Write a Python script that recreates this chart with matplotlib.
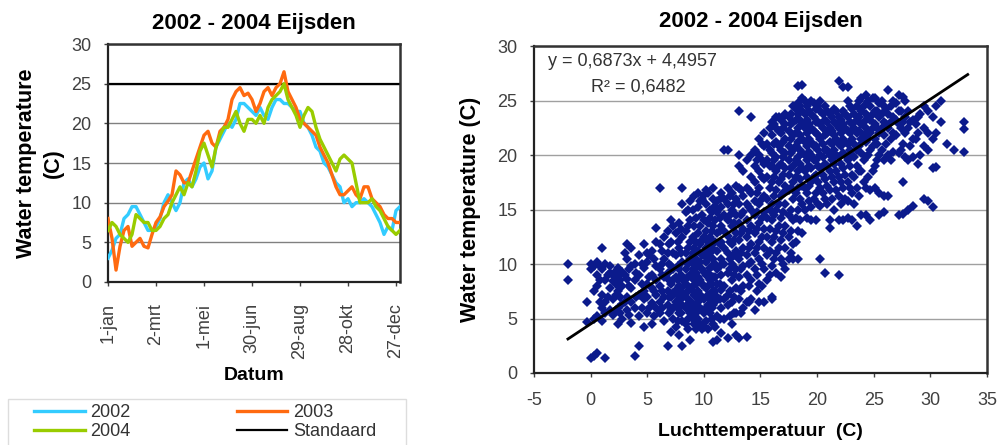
import numpy as np
import matplotlib
matplotlib.use('Agg')
import matplotlib.pyplot as plt
from matplotlib.patches import Rectangle

plt.rcParams['font.family'] = ['Liberation Sans', 'DejaVu Sans']
plt.rcParams['axes.unicode_minus'] = False

# left panel: water temperature per day of year (read every 5 days)
days = np.arange(0, 366, 5)
temp_2002 = [3, 4, 5.5, 6, 8, 8.5, 9.5, 9.5, 8.5, 7.5,
             6.5, 6.5, 7, 8, 10, 11, 10, 9, 10, 12.5,
             13, 12, 13, 14.5, 15, 13, 14, 17, 18, 19,
             20, 19.5, 20.5, 22.5, 22.5, 22, 21.5, 21, 22, 21,
             20.5, 22, 23, 23, 22.5, 22.5, 22, 21.5, 21.5, 20,
             19.5, 18.5, 17, 16.5, 15, 14.5, 13.5, 12.5, 12, 10,
             10.5, 9.5, 10, 10, 10.5, 10, 9.5, 8.5, 7.5, 6,
             7, 6.5, 9, 9.5]
temp_2003 = [8, 5.5, 1.5, 4.5, 6.5, 7, 4.5, 5, 5.5, 4.5,
             4.3, 6, 7.5, 8.2, 9.5, 10.2, 11, 14, 13.5, 12.5,
             12.5, 14, 15.5, 17, 18.5, 19, 17.5, 17, 19, 19.5,
             20.5, 23, 24, 24.5, 23.5, 23.8, 23, 21.5, 22.5, 24,
             24.5, 23.5, 24.5, 25, 26.5, 24, 23, 22, 20.5, 20,
             19.5, 19, 18.5, 17, 16, 15, 13.5, 12, 11, 11,
             11.5, 12, 11, 10.5, 12, 12, 10.5, 10, 9.5, 8.5,
             8, 8, 7.5, 7.5]
temp_2004 = [6.5, 7.5, 7, 6, 5.5, 5, 6, 8.5, 8, 7.5,
             7.5, 6.5, 6.5, 7, 8, 8.5, 10, 11, 12, 11,
             12.5, 12, 14, 16.5, 17.5, 16, 14.5, 17, 18.5, 19.5,
             19.5, 20.5, 21.5, 20, 19, 20.5, 20.5, 20, 21, 20,
             22, 23, 23.5, 24, 25, 23, 22, 21, 19.5, 21,
             22, 21.5, 19.5, 18, 17, 16, 15, 14, 15.5, 16,
             15.5, 15, 12.5, 10, 10, 10, 10.5, 9.5, 9, 8,
             7, 6.5, 6, 6.5]
standaard = 25
date_ticks = [0, 60, 120, 180, 240, 300, 360]
date_labels = ['1-jan', '2-mrt', '1-mei', '30-jun', '29-aug', '28-okt', '27-dec']

# right panel: air temperature columns with the water temperatures seen there
air_cols = [-2.0, -0.3, 0.0, 0.3, 0.6, 1.0, 1.3, 1.7, 2.0, 2.4, 2.8, 3.2, 3.6, 3.9,
            4.3, 4.7, 5.0, 5.4, 5.8, 6.1, 6.5, 6.8, 7.1, 7.5, 7.8, 8.1, 8.4, 8.8,
            9.1, 9.5, 9.8, 10.2, 10.5, 10.8, 11.2, 11.5, 11.8, 12.1, 12.5, 12.8,
            13.1, 13.5, 13.8, 14.2, 14.5, 14.9, 15.3, 15.6, 16.0, 16.4, 16.8,
            17.2, 17.5, 17.9, 18.3, 18.7, 19.1, 19.5, 19.9, 20.3, 20.7, 21.1,
            21.5, 21.9, 22.3, 22.7, 23.1, 23.5, 23.9, 24.3, 24.7, 25.1, 25.5,
            25.9, 26.3, 26.7, 27.2, 27.6, 28.0, 28.5, 28.9, 29.4, 29.8, 30.2,
            30.5, 30.9, 31.5, 32.1, 33.0]
water_cols = [
    [10, 8.5], [6.5, 4.7], [1.4, 9.5, 10], [1.6, 5.0, 7.5, 9.8],
    [1.8, 5.2, 8.0, 9.0, 10.2], [4.8, 6.0, 7.2, 9.5, 11.5], [1.4, 5.5, 6.5, 8.5, 10.0],
    [5.8, 7.8, 9.2, 9.8], [5.3, 6.8, 8.4, 9.0], [4.5, 6.0, 7.5, 8.8, 9.6],
    [5.0, 6.3, 8.0, 9.3], [5.8, 7.0, 8.6, 10.5, 11.8], [4.6, 6.5, 7.8, 9.8, 11.5],
    [1.6, 6.0, 8.5, 10.0], [2.5, 5.2, 7.2, 9.0, 10.8], [4.2, 6.8, 7.5, 9.6, 11.8],
    [5.5, 7.0, 8.2, 10.2, 11.0], [4.5, 6.4, 7.8, 9.0, 11.2],
    [6.0, 7.2, 8.5, 9.8, 12.0, 13.3], [5.5, 6.5, 8.0, 9.5, 11.8, 17.0],
    [4.8, 7.0, 8.8, 10.5, 12.5], [2.5, 6.2, 7.5, 9.2, 11.0, 13.0],
    [3.8, 5.8, 7.0, 8.2, 9.8, 12.0, 14.0], [4.2, 6.5, 7.6, 8.8, 10.8, 12.8],
    [3.5, 5.5, 6.8, 8.0, 9.5, 11.5, 13.8], [2.5, 4.8, 6.2, 7.4, 8.6, 10.2, 12.5, 15.5, 17.0],
    [4.5, 6.0, 7.0, 8.2, 9.5, 11.0, 13.0, 14.8], [3.0, 5.5, 6.6, 7.8, 9.0, 10.5, 12.0, 14.0, 15.8],
    [4.5, 6.2, 7.2, 8.5, 10.0, 11.5, 13.5, 16.2], [5.0, 6.5, 7.5, 8.8, 9.8, 11.2, 12.8, 15.2, 16.5],
    [4.0, 5.8, 7.0, 8.2, 9.5, 10.8, 12.2, 14.5, 16.0], [4.8, 6.0, 7.8, 9.0, 10.2, 11.5, 13.0, 15.5, 16.8],
    [5.5, 6.8, 8.5, 9.6, 11.0, 12.5, 14.2, 15.0], [2.8, 4.5, 6.2, 7.5, 8.8, 10.5, 12.0, 13.5, 16.0, 17.0],
    [3.0, 5.2, 7.0, 8.2, 9.5, 11.2, 12.8, 14.8, 15.8], [3.7, 6.0, 7.6, 9.0, 10.5, 12.0, 13.5, 15.2, 16.5],
    [5.0, 6.8, 8.0, 10.0, 11.5, 13.0, 14.5, 16.0, 20.5], [3.2, 6.2, 7.2, 9.2, 11.0, 12.6, 14.0, 15.5, 17.0, 20.5],
    [4.5, 6.5, 8.5, 10.0, 11.8, 13.5, 15.0, 16.5], [3.5, 5.5, 7.8, 9.5, 11.2, 12.8, 14.5, 16.0, 17.2],
    [3.2, 6.8, 8.8, 10.5, 12.2, 13.8, 15.5, 17.0, 19.0, 20.0, 24.0], [6.0, 8.0, 9.8, 11.5, 13.2, 14.8, 16.2, 18.5],
    [3.3, 6.5, 9.0, 10.8, 12.5, 14.0, 15.5, 17.0, 19.5], [6.8, 8.5, 10.2, 11.8, 13.5, 15.0, 16.5, 18.0, 20.0, 23.5],
    [5.8, 9.5, 11.0, 12.8, 14.5, 15.8, 17.5, 19.0, 20.5], [6.5, 8.2, 10.5, 12.0, 13.8, 15.5, 17.0, 18.5, 20.0, 21.5],
    [6.5, 9.5, 11.5, 13.2, 14.8, 16.2, 17.8, 19.2, 20.8, 22.0], [8.5, 10.8, 12.5, 14.2, 16.0, 18.0, 19.5, 21.0],
    [6.8, 7.0, 9.8, 12.0, 14.0, 15.5, 17.5, 19.0, 20.2, 21.8, 23.0],
    [9.2, 11.0, 13.0, 15.0, 16.8, 18.5, 19.8, 21.2, 22.5, 23.5],
    [8.8, 10.5, 12.2, 14.2, 16.2, 17.8, 19.2, 20.5, 22.0, 23.2],
    [9.5, 11.5, 13.5, 15.5, 17.2, 18.8, 20.2, 21.5, 22.8, 23.8],
    [10.5, 12.5, 14.5, 16.8, 18.2, 19.5, 20.8, 22.2, 23.5],
    [10.5, 11.8, 14.0, 16.0, 17.5, 19.0, 20.5, 21.8, 23.0, 24.5],
    [10.5, 13.0, 15.0, 17.0, 18.5, 19.8, 21.2, 22.5, 23.8, 24.8, 26.3],
    [12.8, 15.5, 17.2, 18.8, 20.2, 21.5, 22.8, 24.0, 25.2, 26.4],
    [14.2, 16.5, 18.0, 19.5, 20.8, 22.0, 23.2, 24.5],
    [14.0, 15.2, 17.5, 18.8, 20.0, 21.2, 22.5, 23.8, 25.0],
    [14.0, 16.5, 18.2, 19.5, 20.8, 22.0, 23.0, 24.2],
    [10.5, 15.3, 17.0, 18.8, 20.0, 21.5, 22.8, 24.0, 25.0],
    [9.2, 16.0, 17.8, 19.2, 20.5, 21.8, 23.2, 24.5],
    [13.3, 14.0, 16.8, 18.5, 20.0, 21.2, 22.5, 23.8],
    [15.0, 17.5, 19.2, 20.5, 21.8, 23.0, 24.2],
    [9.0, 14.0, 16.2, 18.0, 19.8, 21.0, 22.5, 23.5, 26.8],
    [14.0, 17.0, 18.8, 20.2, 21.5, 22.8, 24.0, 26.2],
    [14.2, 15.8, 17.5, 19.5, 21.0, 22.2, 23.5, 25.0, 26.2],
    [14.0, 16.5, 18.2, 20.0, 21.5, 22.8, 24.2],
    [13.5, 17.0, 19.0, 20.5, 22.0, 23.2, 24.5],
    [14.5, 18.5, 20.2, 21.5, 22.8, 24.0, 25.2],
    [14.5, 17.0, 19.8, 21.2, 22.5, 23.8, 25.5],
    [14.0, 16.8, 20.5, 22.0, 23.2, 24.5],
    [17.0, 19.0, 21.5, 22.8, 24.0, 25.2],
    [14.5, 16.5, 20.0, 22.0, 23.5, 24.8],
    [14.8, 16.2, 19.5, 21.8, 23.0, 24.5],
    [16.2, 20.0, 22.5, 23.8, 26.0],
    [20.3, 22.0, 23.5, 25.0],
    [14.5, 20.2, 22.8, 24.0, 25.5],
    [14.6, 17.5, 21.0, 23.0, 25.3],
    [15.0, 19.5, 22.5, 24.0],
    [15.3, 19.8, 21.5, 23.2],
    [19.2, 22.0, 23.5],
    [16.0, 20.8, 22.5, 24.5],
    [15.8, 20.5, 22.0, 24.0],
    [15.2, 18.8, 21.5, 23.5],
    [18.9, 22.0, 24.5],
    [23.0, 25.0],
    [21.0],
    [20.5],
    [20.3, 22.4, 23.0],
]
# extra points in between, where the cloud is densest
air_cols_b = [0.8, 1.5, 2.2, 2.6, 3.0, 3.4, 4.0, 4.5, 5.2, 5.6, 6.3, 6.9, 7.3, 7.7,
              8.0, 8.6, 9.0, 9.3, 9.7, 10.0, 10.4, 10.7, 11.0, 11.4, 12.3, 12.7,
              13.3, 14.0, 14.7, 15.1, 15.8, 16.2, 16.6, 17.0, 17.7, 18.1, 18.5,
              18.9, 19.3, 19.7, 20.1, 20.5, 20.9, 21.3, 21.7, 22.1, 22.5, 22.9,
              23.3, 23.7, 24.1, 24.5, 24.9, 25.3, 25.7, 26.1, 26.5, 27.0, 27.4,
              27.8, 28.2, 28.7, 29.1]
water_cols_b = [
    [6.5, 8.5, 9.8], [7.0, 9.0], [5.8, 7.2, 8.2, 9.4], [5.5, 7.0, 8.5],
    [6.5, 9.0, 11.0], [5.3, 8.0, 9.5], [7.0, 9.2], [6.0, 8.2, 10.0],
    [6.0, 8.8, 10.8], [5.2, 7.5, 10.5], [6.0, 7.5, 9.0, 10.0, 11.2],
    [5.5, 7.0, 8.5, 10.0, 11.8], [5.0, 6.0, 7.3, 8.5, 9.5, 11.0, 13.5],
    [4.8, 6.0, 7.2, 8.5, 9.8, 12.0], [5.5, 6.8, 7.8, 9.0, 11.0, 13.2],
    [4.0, 5.0, 6.3, 7.5, 8.8, 10.0, 11.5, 13.5, 15.0],
    [5.0, 6.0, 7.5, 8.0, 9.5, 11.0, 12.5, 15.0],
    [4.0, 5.5, 7.0, 8.2, 9.2, 10.5, 12.0, 14.2],
    [4.5, 6.0, 7.2, 8.5, 10.2, 11.8, 13.5, 15.8],
    [4.2, 5.5, 6.8, 8.0, 9.3, 10.8, 12.5, 14.0, 16.3],
    [4.0, 6.2, 7.2, 8.0, 9.2, 10.5, 12.0, 13.8, 16.5],
    [5.0, 6.0, 7.0, 8.2, 9.8, 11.5, 13.0, 14.8],
    [4.2, 6.5, 7.5, 8.8, 10.0, 12.0, 14.0, 15.3],
    [5.0, 6.8, 8.2, 9.8, 11.8, 13.0, 14.2, 16.0],
    [5.2, 7.5, 9.5, 10.5, 12.0, 14.5, 16.2], [5.5, 7.0, 9.0, 10.8, 12.2, 13.8, 15.5],
    [5.5, 7.5, 9.5, 11.0, 12.8, 14.5, 16.8], [6.5, 8.0, 10.0, 11.5, 13.0, 15.2, 16.8],
    [7.5, 9.0, 11.5, 13.2, 14.8, 16.5, 19.5], [8.0, 10.0, 12.5, 14.2, 16.0, 18.0, 19.5, 21.0],
    [9.0, 11.2, 13.2, 15.0, 17.0, 19.0, 20.5, 22.5], [10.5, 12.5, 14.5, 16.2, 18.0, 19.5, 21.0, 22.8],
    [11.5, 13.5, 15.5, 17.5, 19.0, 20.8, 22.2, 23.5],
    [10.0, 12.8, 14.8, 16.5, 18.2, 19.8, 21.2, 22.5, 23.5],
    [11.0, 13.0, 15.0, 17.0, 18.8, 20.2, 21.5, 22.8, 23.8],
    [12.0, 14.2, 16.5, 18.0, 19.5, 20.8, 22.0, 23.2, 24.2],
    [14.0, 16.0, 17.8, 19.2, 20.5, 21.8, 23.2, 24.5],
    [15.0, 17.0, 18.5, 20.0, 21.2, 22.5, 23.8, 25.0],
    [15.8, 17.2, 19.0, 20.3, 21.5, 22.8, 24.0], [16.0, 18.0, 19.5, 20.8, 22.2, 23.5, 24.8],
    [15.5, 17.5, 19.0, 20.5, 21.8, 23.0, 24.5], [16.5, 18.2, 19.8, 21.0, 22.5, 23.8],
    [15.5, 17.2, 19.0, 20.5, 22.0, 23.0, 24.0], [16.0, 18.0, 19.5, 21.0, 22.2, 23.5],
    [16.8, 18.5, 20.0, 21.5, 22.8, 24.0], [15.5, 17.5, 19.2, 20.8, 22.0, 23.2],
    [16.0, 18.2, 20.0, 21.2, 22.5, 23.8], [17.0, 19.0, 20.5, 22.0, 23.0, 24.5],
    [15.5, 18.0, 19.8, 21.0, 22.5, 23.8], [16.2, 18.5, 20.8, 22.2, 23.5, 25.0],
    [17.5, 19.5, 21.8, 23.0, 24.5], [18.0, 20.0, 21.5, 23.5, 25.0],
    [18.5, 20.8, 22.5, 23.8, 25.2], [19.5, 21.0, 22.5, 24.0], [20.5, 22.5, 23.8, 25.0],
    [21.0, 22.8, 24.2], [19.5, 21.5, 23.0, 24.5], [21.8, 23.2, 24.8], [20.5, 22.5, 24.0],
    [19.8, 22.0, 23.5, 25.0], [20.8, 23.0], [21.5, 22.8], [20.0, 23.8],
]
slope, intercept, r2 = 0.6873, 4.4957, 0.6482
trend_x = np.array([-2.0, 33.3])

all_air = air_cols + air_cols_b
all_water = water_cols + water_cols_b
air = np.concatenate([[a] * len(w) for a, w in zip(all_air, all_water)])
water = np.concatenate(all_water)


def comma(v):
    return f'{v:.4f}'.replace('.', ',')


tick_col = '#404040'
fig = plt.figure(figsize=(10.02, 4.45), dpi=100)

# ---- left: seasonal lines ----
ax1 = fig.add_axes([0.1078, 0.3663, 0.2914, 0.5348])
l02, = ax1.plot(days, temp_2002, color='#33CCFF', lw=2.4, label='2002', zorder=3)
l03, = ax1.plot(days, temp_2003, color='#FF6A10', lw=2.4, label='2003', zorder=3)
l04, = ax1.plot(days, temp_2004, color='#99CC00', lw=2.4, label='2004', zorder=4)
lstd = ax1.axhline(standaard, color='black', lw=1.6, label='Standaard', zorder=2)
ax1.set_xlim(0, 365)
ax1.set_ylim(0, 30)
ax1.set_yticks(range(0, 31, 5))
ax1.set_xticks(date_ticks)
ax1.set_xticklabels(date_labels, rotation=90)
ax1.yaxis.grid(True, color='#808080', lw=1)
ax1.set_axisbelow(True)
ax1.set_title('2002 - 2004 Eijsden', fontsize=16, fontweight='bold', pad=11)
ax1.set_xlabel('Datum', fontsize=14, fontweight='bold', labelpad=6)
ax1.set_ylabel('Water temperature\n(C)', fontsize=15.5, fontweight='bold', labelpad=5,
               linespacing=1.4)

# ---- right: scatter with trend line ----
ax2 = fig.add_axes([0.5329, 0.1618, 0.4521, 0.7348])
ax2.plot(air, water, 'D', color='#0B1A8C', ms=5.6, mew=0, zorder=3)
ax2.plot(trend_x, slope * trend_x + intercept, color='black', lw=2, zorder=4)
ax2.set_xlim(-5, 35)
ax2.set_ylim(0, 30)
ax2.set_xticks(range(-5, 36, 5))
ax2.set_yticks(range(0, 31, 5))
ax2.yaxis.grid(True, color='#a0a0a0', lw=1)
ax2.set_axisbelow(True)
ax2.set_title('2002 - 2004 Eijsden', fontsize=16, fontweight='bold', pad=14)
ax2.set_xlabel('Luchttemperatuur  (C)', fontsize=14, fontweight='bold', labelpad=10)
ax2.set_ylabel('Water temperature (C)', fontsize=15.5, fontweight='bold', labelpad=12)
ax2.text(-3.8, 28.6, f'y = {comma(slope)}x + {comma(intercept)}',
         fontsize=13, color='#333333', va='center')
ax2.text(0.0, 26.2, f'R² = {comma(r2)}', fontsize=13, color='#333333', va='center')

for ax in (ax1, ax2):
    ax.tick_params(labelsize=13, colors=tick_col, length=3, width=1, direction='out')
    ax.tick_params(axis='y', pad=9)
    for side in ('left', 'bottom'):
        ax.spines[side].set_color('#222222')
        ax.spines[side].set_linewidth(1.6)
    for side in ('top', 'right'):
        ax.spines[side].set_color('#333333')
        ax.spines[side].set_linewidth(1.8)
ax1.tick_params(axis='x', pad=12)
ax2.tick_params(axis='x', pad=11)

# legend box (runs off the bottom edge like the original)
fig.patches.append(Rectangle((8 / 1002, -0.05), 398 / 1002, 0.05 + 46 / 445,
                             transform=fig.transFigure, facecolor='white',
                             edgecolor='#dddddd', lw=1))
leg = fig.legend(handles=[l02, l04, l03, lstd], ncol=2, loc='upper left',
                 bbox_to_anchor=(34 / 1002, 1 - 404 / 445), fontsize=13, frameon=False,
                 handlelength=2.8, handletextpad=0.3, labelspacing=0.12,
                 columnspacing=5.9, borderaxespad=0, borderpad=0)
for t in leg.get_texts():
    t.set_color('#333333')

fig.savefig('out.png', dpi=100)
